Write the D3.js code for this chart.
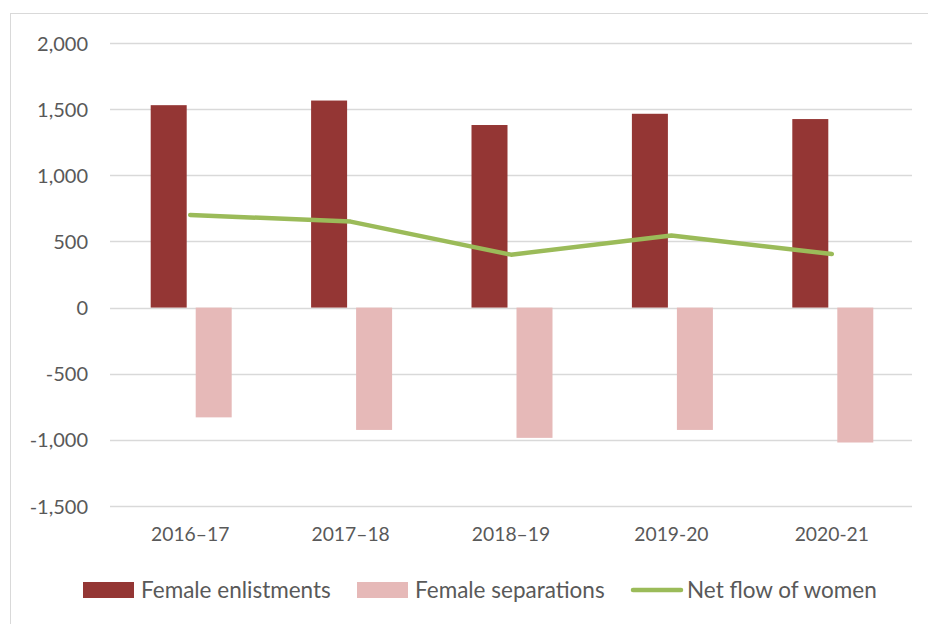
<!DOCTYPE html>
<html><head><meta charset="utf-8">
<script src="https://cdn.jsdelivr.net/npm/d3@7"></script>
<style>body{margin:0;background:#fff;}svg{display:block;}text{font-family:Lato,"Open Sans",sans-serif;fill:#595959;}</style>
</head><body>
<script>
const categories = ["2016\u201317","2017\u201318","2018\u201319","2019-20","2020-21"];
const enlistments = [1530, 1565, 1380, 1465, 1425];
const separations = [-830, -925, -985, -925, -1020];
const netFlow = [700, 650, 400, 545, 405];
const yTicks = [-1500,-1000,-500,0,500,1000,1500,2000];
const seriesNames = ["Female enlistments","Female separations","Net flow of women"];
const colors = ["#943634","#E6B9B8","#9BBB59"];

const W=928,H=624;
const svg=d3.select("body").append("svg").attr("width",W).attr("height",H);
svg.append("rect").attr("x",10.5).attr("y",13.5).attr("width",930).attr("height",630)
  .attr("fill","none").attr("stroke","#d9d9d9");

const x=d3.scaleBand().domain(categories).range([110,912]);
const y=d3.scaleLinear().domain([-1500,2000]).range([506,43]);

const g=svg.append("g");
g.selectAll("line.grid").data(yTicks).join("line")
  .attr("x1",110).attr("x2",912).attr("y1",d=>Math.round(y(d))+0.5).attr("y2",d=>Math.round(y(d))+0.5)
  .attr("stroke","#d9d9d9").attr("stroke-width",1.5);

const fmt=d3.format(",");
const yAxis=d3.axisLeft(y).tickValues(yTicks).tickSize(0).tickPadding(0).tickFormat(d=>fmt(d).replace("\u2212","-"));
const ya=svg.append("g").attr("transform","translate(88,0)").call(yAxis);
ya.select(".domain").remove();
ya.selectAll("text").style("font-size","20px").attr("dy","0.35em").attr("fill","#595959");

const xAxis=d3.axisBottom(x).tickSize(0).tickPadding(0);
const xa=svg.append("g").attr("transform","translate(0,527)").call(xAxis);
xa.select(".domain").remove();
xa.selectAll("text").style("font-size","19.3px").attr("dy","0.71em").attr("fill","#595959");

const cx=c=>x(c)+x.bandwidth()/2;
const bw=36;
g.selectAll("rect.en").data(categories).join("rect")
  .attr("x",(c)=>cx(c)-39.5).attr("width",bw)
  .attr("y",(c,i)=>y(enlistments[i])).attr("height",(c,i)=>y(0)-y(enlistments[i]))
  .attr("fill",colors[0]);
g.selectAll("rect.sp").data(categories).join("rect")
  .attr("x",(c)=>cx(c)+5.5).attr("width",bw)
  .attr("y",y(0)).attr("height",(c,i)=>y(separations[i])-y(0))
  .attr("fill",colors[1]);

const line=d3.line().x((d,i)=>cx(categories[i])).y(d=>y(d));
g.append("path").datum(netFlow).attr("d",line).attr("fill","none")
  .attr("stroke",colors[2]).attr("stroke-width",4.5).attr("stroke-linecap","round").attr("stroke-linejoin","round");

// legend
const leg=svg.append("g");
const lx=[83,357,631];
leg.append("rect").attr("x",lx[0]).attr("y",582).attr("width",51).attr("height",16).attr("fill",colors[0]);
leg.append("rect").attr("x",lx[1]).attr("y",582).attr("width",51).attr("height",16).attr("fill",colors[1]);
leg.append("line").attr("x1",lx[2]+2).attr("x2",lx[2]+50).attr("y1",590).attr("y2",590)
  .attr("stroke",colors[2]).attr("stroke-width",4.5).attr("stroke-linecap","round");
const tx=[141,415,687];
seriesNames.forEach((n,i)=>{
  leg.append("text").attr("x",tx[i]).attr("y",590).attr("dy","0.35em").style("font-size","22.5px").text(n);
});
</script>
</body></html>
